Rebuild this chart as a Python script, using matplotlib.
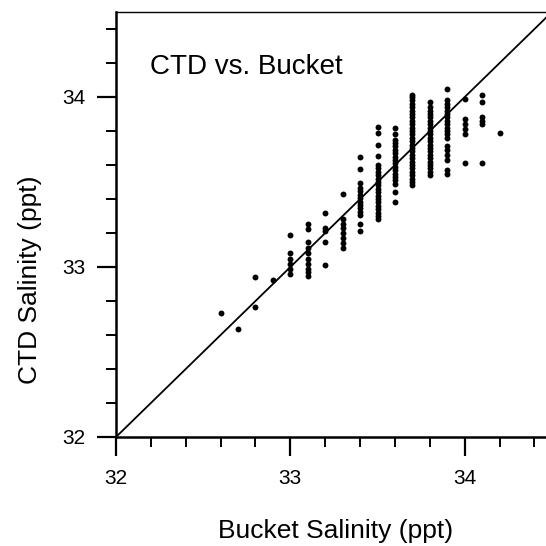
import matplotlib
matplotlib.use("Agg")
import matplotlib.pyplot as plt
from matplotlib.ticker import MultipleLocator

plt.rcParams['font.family'] = ['Liberation Sans', 'DejaVu Sans']

title = "CTD vs. Bucket"
x_label = "Bucket Salinity (ppt)"
y_label = "CTD Salinity (ppt)"
major_ticks = [32, 33, 34]
tick_labels = ["32", "33", "34"]

bucket_levels = [32.6, 32.7, 32.8, 32.9, 33.0, 33.1, 33.2, 33.3, 33.4,
                 33.5, 33.6, 33.7, 33.8, 33.9, 34.0, 34.1, 34.2]

ctd_326 = [32.73]
ctd_327 = [32.635]
ctd_328 = [32.94, 32.765]
ctd_329 = [32.925]
ctd_330 = [33.19, 33.08, 33.05, 33.02, 32.99, 32.96]
ctd_331 = [33.255, 33.225, 33.15, 33.11, 33.08, 33.05, 33.02, 32.99, 32.97, 32.945]
ctd_332 = [33.32, 33.23, 33.21, 33.15, 33.01]
ctd_333 = [33.43, 33.285, 33.255, 33.23, 33.20, 33.17, 33.14, 33.11]
ctd_334 = [33.645, 33.575, 33.495, 33.465, 33.445, 33.425, 33.405, 33.385,
           33.365, 33.345, 33.325, 33.305, 33.255, 33.21]
ctd_335 = [33.825, 33.79, 33.72, 33.655, 33.60, 33.58, 33.56, 33.54, 33.52,
           33.50, 33.48, 33.46, 33.44, 33.42, 33.40, 33.38, 33.36, 33.34,
           33.32, 33.30, 33.28]
ctd_336 = [33.82, 33.78, 33.75, 33.73, 33.71, 33.69, 33.67, 33.65, 33.63,
           33.61, 33.59, 33.57, 33.55, 33.53, 33.51, 33.49, 33.44, 33.38]
ctd_337 = [34.01, 34.00, 33.98, 33.96, 33.94, 33.92, 33.90, 33.88, 33.86,
           33.84, 33.82, 33.80, 33.78, 33.76, 33.74, 33.72, 33.70, 33.68,
           33.66, 33.64, 33.62, 33.60, 33.58, 33.56, 33.54, 33.52, 33.50, 33.48]
ctd_338 = [33.97, 33.94, 33.92, 33.90, 33.88, 33.86, 33.84, 33.82, 33.80,
           33.78, 33.76, 33.74, 33.72, 33.70, 33.68, 33.66, 33.64, 33.62,
           33.60, 33.58, 33.56, 33.54]
ctd_339 = [34.05, 33.98, 33.96, 33.94, 33.92, 33.90, 33.88, 33.86, 33.84,
           33.82, 33.80, 33.78, 33.76, 33.71, 33.69, 33.66, 33.63, 33.57, 33.55]
ctd_340 = [33.99, 33.87, 33.84, 33.81, 33.78, 33.61]
ctd_341 = [34.01, 33.97, 33.88, 33.86, 33.84, 33.61]
ctd_342 = [33.79]

ctd_columns = [ctd_326, ctd_327, ctd_328, ctd_329, ctd_330, ctd_331, ctd_332,
               ctd_333, ctd_334, ctd_335, ctd_336, ctd_337, ctd_338, ctd_339,
               ctd_340, ctd_341, ctd_342]

W = 546.0
fig = plt.figure(figsize=(5.46, 5.46), dpi=100)
ax = fig.add_axes([116 / W, 1 - 437 / W, (W - 116) / W, (437 - 12) / W])

for b, col in zip(bucket_levels, ctd_columns):
    ax.scatter([b] * len(col), col, s=18, color='black', linewidths=0, zorder=3)

ax.plot([32, 34.5], [32, 34.5], color='black', lw=1.3, zorder=2)

ax.set_xlim(32, 34.466)
ax.set_ylim(32, 34.5)

ax.set_xticks(major_ticks)
ax.set_xticklabels(tick_labels)
ax.set_yticks(major_ticks)
ax.set_yticklabels(tick_labels)
ax.xaxis.set_minor_locator(MultipleLocator(0.2))
ax.yaxis.set_minor_locator(MultipleLocator(0.2))

ax.tick_params(axis='both', which='major', direction='out', length=14,
               width=1.6, labelsize=15, colors='black')
ax.tick_params(axis='x', which='major', pad=9)
ax.tick_params(axis='y', which='major', pad=8)
ax.tick_params(axis='both', which='minor', direction='out', length=7.5, width=1.4)

ax.spines['left'].set_linewidth(1.8)
ax.spines['bottom'].set_linewidth(1.8)
ax.spines['top'].set_linewidth(1.0)
ax.spines['right'].set_visible(False)

fig.text(336 / W, 1 - 538 / W, x_label, fontsize=19, ha='center', va='baseline')
fig.text(30 / W, 1 - 280 / W, y_label, fontsize=19, ha='center', va='center',
         rotation=90)

ax.text((150 - 116) / 430, 1 - (67 - 12) / 425, title, transform=ax.transAxes,
        fontsize=20, ha='left', va='center')

fig.savefig("out.png", dpi=100)
